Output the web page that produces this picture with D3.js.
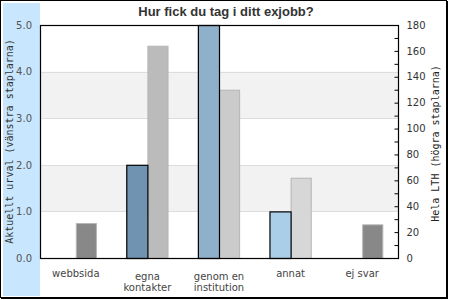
<!DOCTYPE html>
<html>
<head>
<meta charset="utf-8">
<script src="https://cdn.jsdelivr.net/npm/d3@7"></script>
<style>
  html, body { margin: 0; padding: 0; background: #fff; }
  svg { display: block; }
</style>
</head>
<body>
<div id="chart"></div>
<script>
// chart data
const categories = ["webbsida", "egna kontakter", "genom en institution", "annat", "ej svar"];
const categoryLines = [["webbsida"], ["egna", "kontakter"], ["genom en", "institution"], ["annat"], ["ej svar"]];
const urvalValues = [0, 2, 5, 1, 0];          // left bars, left axis
const lthValues = [27, 164, 130, 62, 26];     // right bars, right axis
const leftTicks = [0, 1, 2, 3, 4, 5];
const rightTicks = d3.range(0, 181, 10);

const title = "Hur fick du tag i ditt exjobb?";
const leftTitle = "Aktuellt urval (vänstra staplarna)";
const rightTitle = "Hela LTH (högra staplarna)";

const leftColors = ["#6f93b0", "#6f93b0", "#8eb0cb", "#aacde8", "#aacde8"];
const rightColors = ["#888888", "#bbbbbb", "#cbcbcb", "#d7d7d7", "#888888"];

const width = 450, height = 300;
const plot = { left: 40, top: 25, right: 398, bottom: 258 };

const svg = d3.select("#chart").append("svg")
  .attr("width", width)
  .attr("height", height);

// outer frame + blue side panel
svg.append("rect").attr("x", 3).attr("y", 3).attr("width", plot.left - 3).attr("height", 293)
  .attr("fill", "#c8e6fd");
svg.append("rect").attr("x", 0.5).attr("y", 0.5).attr("width", 446).attr("height", 297)
  .attr("fill", "none").attr("stroke", "#000");
svg.append("path").attr("d", "M447.5,1V298.5M1,298.5H448")
  .attr("fill", "none").attr("stroke", "#000");

const x = d3.scaleBand()
  .domain(categories)
  .range([plot.left, plot.right])
  .paddingInner(0.41)
  .paddingOuter(0.205);

const xSub = d3.scaleBand()
  .domain(["urval", "lth"])
  .range([0, x.bandwidth()]);

const yL = d3.scaleLinear().domain([0, 5]).range([plot.bottom, plot.top]);
const yR = d3.scaleLinear().domain([0, 180]).range([plot.bottom, plot.top]);

// alternating bands and grid lines
const bandPairs = d3.pairs(leftTicks).filter((d, i) => i % 2 === 1);
svg.append("g").selectAll("rect")
  .data(bandPairs)
  .join("rect")
  .attr("x", plot.left)
  .attr("width", plot.right - plot.left)
  .attr("y", d => yL(d[1]))
  .attr("height", d => yL(d[0]) - yL(d[1]))
  .attr("fill", "#f2f2f2");

svg.append("g").selectAll("line")
  .data(leftTicks.slice(1, -1))
  .join("line")
  .attr("x1", plot.left).attr("x2", plot.right)
  .attr("y1", d => Math.round(yL(d)) + 0.5)
  .attr("y2", d => Math.round(yL(d)) + 0.5)
  .attr("stroke", "#dddddd");

// right bars (whole LTH)
svg.append("g").selectAll("rect")
  .data(categories)
  .join("rect")
  .attr("x", (d, i) => x(d) + xSub("lth") + 0.5)
  .attr("y", (d, i) => yR(lthValues[i]) + 0.5)
  .attr("width", xSub.bandwidth() - 1)
  .attr("height", (d, i) => yR(0) - yR(lthValues[i]))
  .attr("fill", (d, i) => rightColors[i])
  .attr("stroke", "#b5b5b5");

// left bars (current selection)
svg.append("g").selectAll("rect")
  .data(categories.filter((d, i) => urvalValues[i] > 0))
  .join("rect")
  .attr("x", d => x(d) + xSub("urval") + 0.5)
  .attr("y", d => yL(urvalValues[categories.indexOf(d)]) + 0.5)
  .attr("width", xSub.bandwidth())
  .attr("height", d => yL(0) - yL(urvalValues[categories.indexOf(d)]))
  .attr("fill", d => leftColors[categories.indexOf(d)])
  .attr("stroke", "#000")
  .attr("stroke-width", 1.2);

// plot frame
svg.append("rect")
  .attr("x", plot.left + 0.5).attr("y", plot.top + 0.5)
  .attr("width", plot.right - plot.left).attr("height", plot.bottom - plot.top)
  .attr("fill", "none").attr("stroke", "#000").attr("stroke-width", 1.2);

// left axis
const leftAxis = svg.append("g")
  .attr("transform", `translate(${plot.left},0)`)
  .call(d3.axisLeft(yL).tickValues(leftTicks).tickFormat(d3.format(".1f")).tickSize(0).tickPadding(8));
leftAxis.select(".domain").remove();
leftAxis.selectAll("text")
  .attr("font-family", "DejaVu Sans").attr("font-size", 10).attr("fill", "#555");

// right axis, ticks inward, labels every 20
const rightAxis = svg.append("g")
  .attr("transform", `translate(${plot.right + 0.5},0)`)
  .call(d3.axisRight(yR).tickValues(rightTicks)
    .tickFormat(d => d % 20 === 0 ? d : "")
    .tickSize(-4).tickPadding(8));
rightAxis.select(".domain").remove();
rightAxis.selectAll("line").attr("stroke", "#000");
rightAxis.selectAll("text")
  .attr("x", 8)
  .attr("font-family", "DejaVu Sans").attr("font-size", 10).attr("fill", "#333");

// category labels
const labels = svg.append("g").selectAll("text")
  .data(categories)
  .join("text")
  .attr("x", d => x(d) + x.bandwidth() / 2)
  .attr("y", (d, i) => categoryLines[i].length > 1 ? 280 : 277)
  .attr("text-anchor", "middle")
  .attr("font-family", "DejaVu Sans")
  .attr("font-size", 10)
  .attr("fill", "#444");
labels.selectAll("tspan")
  .data((d, i) => categoryLines[i].map(t => ({ t, cx: x(d) + x.bandwidth() / 2 })))
  .join("tspan")
  .attr("x", d => d.cx)
  .attr("dy", (d, i) => i === 0 ? 0 : 11)
  .text(d => d.t);

// titles
svg.append("text")
  .attr("x", 226).attr("y", 16)
  .attr("text-anchor", "middle")
  .attr("font-family", "Liberation Sans").attr("font-weight", "bold").attr("font-size", 13)
  .attr("fill", "#333")
  .text(title);

svg.append("text")
  .attr("transform", `translate(13.3,${(plot.top + plot.bottom) / 2}) rotate(-90)`)
  .attr("text-anchor", "middle")
  .attr("font-family", "DejaVu Sans Mono").attr("font-size", 10)
  .attr("fill", "#333")
  .text(leftTitle);

svg.append("text")
  .attr("transform", `translate(438.5,${(plot.top + plot.bottom) / 2 + 2}) rotate(-90)`)
  .attr("text-anchor", "middle")
  .attr("font-family", "DejaVu Sans Mono").attr("font-size", 10)
  .attr("fill", "#222")
  .text(rightTitle);
</script>
</body>
</html>
